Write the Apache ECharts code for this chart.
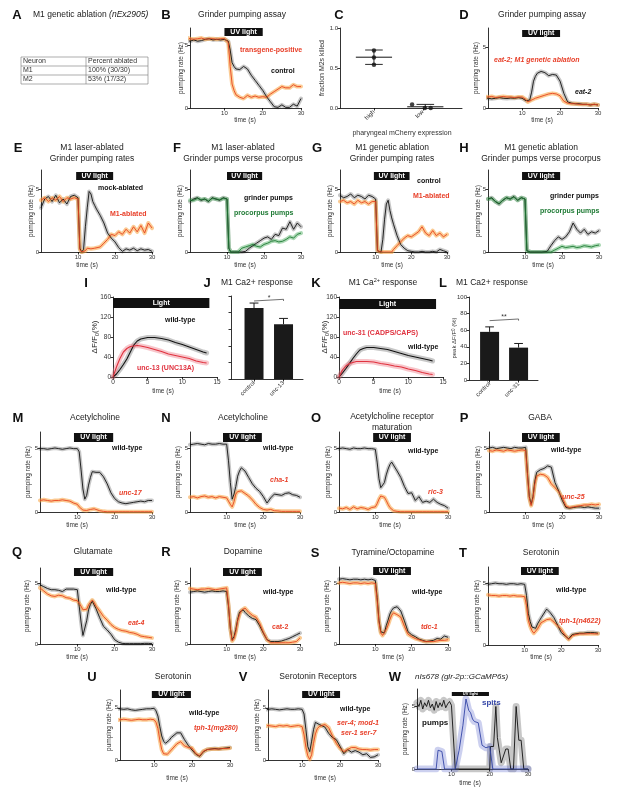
<!DOCTYPE html>
<html><head><meta charset="utf-8">
<script src="https://cdn.jsdelivr.net/npm/echarts@6/dist/echarts.min.js"></script>
<style>html,body{margin:0;padding:0;background:#fff}#c{width:617px;height:795px}</style>
</head><body><div id="c"></div><script>
// ---------------- DATA ----------------
const T = [0,1,2,3,4,5,6,7,8,9,10,10.5,11,11.5,12,12.5,13,13.5,14,14.5,15,16,17,18,19,20,21,22,23,24,25,26,27,28,29,30];
const bControl = [5.4,5.3,5.4,5.3,5.35,5.45,5.5,5.4,5.45,5.4,5.45, 5.4,5.3,4.6,3.6,3.3,3.1,3.15,3.05,3.2, 3.3,3.1,2.6,2.2,1.8,1.4,0.9,0.5,0.1,0.05,0.25,0.05,0.05,0.3,0.15,0.75];
const bTransgene = [5.6,5.5,5.45,5.5,5.55,5.45,5.5,5.5,5.45,5.5,5.5, 5.45,5.2,3.3,1.9,1.4,1.05,0.9,0.85,0.8, 0.75,1.0,0.85,0.95,0.85,0.9,0.85,1.1,1.3,1.5,1.7,1.6,1.6,1.85,1.7,1.7];
const dEat2 = [0.85,0.8,0.75,0.8,0.85,0.8,0.78,0.82,0.8,0.85,0.8, 0.75,0.6,0.5,0.65,1.3,2.2,2.6,2.85,2.95, 3.0,2.9,2.65,2.75,2.7,2.2,1.2,0.5,0.4,0.35,0.35,0.3,0.3,0.25,0.3,0.25];
const dAblated = [0.95,0.9,0.95,0.85,0.9,0.95,0.9,0.9,0.85,0.9,0.9, 0.85,0.7,0.5,0.6,0.65,0.75,0.8,0.85,0.9, 0.95,1.05,1.15,1.2,1.15,1.0,0.55,0.4,0.35,0.35,0.3,0.3,0.3,0.25,0.3,0.25];
const eMock = [3.5,4.2,4.4,4.0,4.5,3.9,4.2,3.8,4.4,4.5,4.3, 0.3,0,0.2,2.0,3.5,4.8,4.6,4.0,3.7, 3.4,2.9,2.3,1.5,1.1,0.8,0.35,0.05,0.25,0.15,0.3,0.1,0.25,0.15,0.2,0.05];
const eAblated = [4.1,4.3,4.0,4.3,4.1,4.4,4.0,4.3,4.2,4.3,4.2, 0.2,0,0,0.1,0.3,0.3,0.25,0.35,0.3, 0.35,0.4,0.7,1.0,1.4,1.3,1.6,1.4,1.8,1.5,2.0,1.6,2.1,1.5,2.3,1.9];
const fGrinder = [4.0,4.2,4.3,4.1,4.2,4.0,4.3,4.2,4.1,4.3,4.2, 0.3,0,0,0,0,0,0,0,0, 0.05,0.3,0.5,0.7,0.9,1.1,1.2,1.0,1.4,1.3,1.9,1.8,2.4,1.8,2.3,2.0];
const fProcorpus = [4.1,4.1,4.25,4.15,4.2,4.05,4.25,4.2,4.15,4.25,4.2, 0.3,0,0,0,0,0,0.15,0.3,0.35, 0.4,0.5,0.6,0.45,0.4,0.6,0.7,0.85,0.9,0.8,0.85,1.0,1.2,1.1,1.4,1.5];
const gControl = [4.5,4.3,4.4,4.6,4.3,4.5,4.4,4.2,4.5,4.4,4.2, 0.1,0,0,1.0,2.6,3.8,4.1,3.3,2.7, 2.2,1.3,0.6,0.3,0.1,0.05,0,0,0.05,0,0,0.05,0,0.2,0.1,0];
const gAblated = [4.0,4.1,3.9,4.0,3.8,4.1,3.9,4.0,3.8,4.0,4.0, 0.1,0,0,0,0,0,0,0,0, 0.2,0.5,0.8,1.1,1.3,1.2,1.4,1.6,2.0,1.5,1.3,1.7,1.3,1.5,1.2,1.4];
const hGrinder = [4.2,4.3,4.0,3.8,4.1,4.3,4.2,4.4,4.1,4.3,4.2, 0.1,0,0,0,0,0,0,0,0, 0,0.05,0.5,0.9,1.2,1.0,1.2,1.6,2.3,1.8,1.5,1.8,1.4,1.6,1.5,1.7];
const hProcorpus = [4.2,4.25,4.0,3.85,4.1,4.3,4.2,4.35,4.1,4.3,4.2, 0.1,0,0,0,0,0,0,0,0, 0,0,0,0.15,0.3,0.45,0.35,0.4,0.45,0.35,0.4,0.5,0.45,0.4,0.5,0.55];
const mWT = [4.95,4.95,4.9,4.95,5.0,4.95,4.9,4.95,5.0,4.95,4.95, 4.7,3.3,1.8,1.0,1.3,2.1,2.7,3.15,3.3, 3.1,3.1,2.75,2.2,1.5,1.05,0.8,0.7,0.65,0.7,0.75,0.8,0.85,0.8,0.9,0.9];
const mUnc17 = [0.9,0.95,0.9,0.85,0.9,0.9,0.95,0.9,0.85,0.7,0.6, 0.4,0.25,0.15,0.13,0.12,0.15,0.2,0.26,0.25, 0.2,0.1,0.05,0.02,0.02,0.02,0.02,0.02,0.02,0.02,0.02,0.02,0.02,0.02,0.02,0.02];
const nWT = [5.25,5.3,5.35,5.3,5.25,5.35,5.3,5.3,5.35,5.3,5.3, 4.0,2.3,1.0,1.4,2.0,2.8,3.2,3.45,3.35, 3.2,2.7,2.2,1.85,1.6,1.2,0.7,1.1,1.4,1.35,1.3,1.45,1.5,1.35,1.3,1.15];
const nCha1 = [1.15,1.2,1.1,1.2,1.25,1.15,1.2,1.1,1.2,1.15,1.1, 0.85,0.6,0.4,0.8,1.4,1.6,1.7,1.65,1.55, 1.45,1.25,0.95,0.6,0.35,0.2,0.15,0.2,0.1,0.08,0.05,0.05,0.05,0.05,0.05,0.05];
const oWT = [4.95,5.0,4.95,4.9,5.0,4.95,4.95,5.0,4.95,4.95,4.9, 3.9,2.6,1.9,1.9,2.3,2.9,3.35,3.7,3.9, 3.8,3.2,2.7,2.0,1.45,1.5,0.9,1.2,0.75,0.85,0.75,1.0,0.75,0.6,0.5,0.3];
const oRic3 = [0.3,0.25,0.35,0.2,0.4,0.25,0.35,0.3,0.2,0.35,0.4, 0.65,1.0,1.25,1.3,1.15,0.9,0.6,0.35,0.2, 0.1,0.05,0.02,0.02,0.02,0.02,0.02,0.02,0.02,0.02,0.02,0.02,0.02,0.02,0.02,0.02];
const pWT = [5.0,5.05,4.95,5.0,5.05,5.0,4.95,5.05,5.0,5.0,5.05, 3.0,1.2,0.6,1.2,2.4,3.1,3.25,3.3,3.35, 3.4,3.6,3.5,2.3,1.65,0.9,0.35,0.3,0.35,0.4,0.4,0.35,0.4,0.35,0.3,0.3];
const pUnc25 = [4.8,4.75,4.85,4.8,4.75,4.85,4.8,4.75,4.8,4.85,4.8, 2.8,1.1,0.5,1.1,2.2,2.8,2.9,2.95,2.95, 2.9,2.7,2.2,1.9,1.6,1.1,0.45,0.35,0.4,0.45,0.5,0.55,0.55,0.6,0.55,0.6];
const qWT = [4.85,4.7,4.55,4.45,4.45,4.4,4.3,4.5,4.5,4.5,4.45, 3.1,1.8,0.7,0.8,1.9,2.8,3.25,3.5,3.2, 2.9,2.15,1.45,1.15,0.8,0.35,0.15,0.05,0.03,0.03,0.03,0.03,0.03,0.05,0.05,0.03];
const qEat4 = [4.6,4.35,4.1,3.95,3.9,4.0,3.95,3.8,3.75,3.6,3.55, 3.45,3.1,2.8,2.7,2.85,3.2,3.4,3.6,3.4, 3.1,2.7,2.25,1.95,1.6,1.35,1.2,1.1,1.05,0.95,0.9,0.8,0.65,0.6,0.55,0.5];
const rWT = [4.25,4.3,4.35,4.3,4.25,4.3,4.35,4.3,4.3,4.35,4.3, 3.1,1.3,0.35,0.6,1.2,2.0,2.6,2.75,2.8, 2.6,2.3,2.1,2.0,1.5,0.9,0.35,0.2,0.2,0.2,0.25,0.35,0.45,0.6,0.75,0.9];
const rCat2 = [4.55,4.5,4.45,4.5,4.5,4.55,4.5,4.45,4.5,4.55,4.6, 3.2,1.3,0.25,0.45,1.0,1.9,2.4,2.75,2.9, 2.95,2.6,2.35,2.2,1.7,0.95,0.35,0.1,0.1,0.1,0.1,0.1,0.1,0.15,0.2,0.5];
const sWT = [5.3,5.35,5.3,5.25,5.3,5.3,5.25,5.3,5.25,5.3,5.2, 3.8,1.95,1.0,0.85,0.9,1.5,1.95,2.45,2.75, 2.95,3.05,2.7,1.9,1.0,0.75,0.6,0.4,0.3,0.2,0.25,0.3,0.45,0.4,0.65,0.55];
const sTdc1 = [5.0,5.05,5.0,4.95,5.0,5.0,4.95,5.0,4.95,5.0,4.95, 3.6,1.8,0.9,0.7,0.8,1.2,1.55,2.0,2.35, 2.55,2.4,2.2,1.45,0.8,0.6,0.45,0.35,0.25,0.2,0.2,0.2,0.25,0.3,0.3,0.35];
const tWT = [4.9,4.95,5.0,4.95,4.95,4.9,4.95,4.95,4.9,4.95,4.9, 4.0,2.55,1.9,1.45,1.3,1.35,1.7,1.95,2.2, 2.35,2.9,2.6,2.2,1.6,1.0,0.75,0.5,0.85,0.9,0.95,0.95,1.0,1.0,1.0,0.95];
const tTph1n = [4.05,4.0,4.0,3.95,4.0,4.0,3.95,4.0,3.95,3.95,3.9, 3.2,2.0,1.5,1.15,0.95,1.0,1.3,1.55,1.8, 1.9,2.05,2.1,1.85,1.55,1.25,0.8,0.45,0.75,0.85,0.9,0.9,0.9,0.92,0.9,0.9];
const uWT = [4.9,4.9,4.85,4.9,4.8,4.75,4.8,4.85,4.9,4.9,4.95, 4.7,4.2,3.2,2.3,1.8,1.6,1.6,1.9,2.15, 2.3,2.6,2.6,1.95,1.4,0.95,0.55,0.35,0.8,1.0,1.05,1.1,1.05,1.1,1.15,1.2];
const uTph1mg = [3.8,3.85,3.9,3.85,3.8,3.85,3.9,3.85,3.85,3.9,3.85, 3.6,3.0,1.9,1.0,0.6,0.5,0.55,0.75,0.95, 1.15,1.55,1.75,1.35,1.2,1.15,0.6,0.4,0.85,1.0,1.05,1.05,1.05,1.1,1.1,1.15];
const vWT = [4.8,4.85,4.9,4.85,4.8,4.85,4.9,4.85,4.85,4.9,4.85, 4.4,2.9,1.3,0.8,1.8,2.9,3.6,3.6,3.4, 3.3,3.15,2.55,2.15,1.95,1.3,0.6,1.0,0.75,0.9,0.75,0.5,0.6,0.25,0.3,0.5];
const vSerMut = [3.2,3.3,3.25,3.2,3.3,3.25,3.3,3.2,3.25,3.3,3.2, 2.4,1.2,0.4,0.06,0.5,1.6,2.5,3.0,3.2, 3.3,3.4,3.1,2.3,1.6,1.1,0.8,1.0,1.2,1.2,1.05,1.0,1.0,0.95,1.0,1.0];
const wPumpT = [1,1.5,2,2.5,3,3.5,4,4.5,5,5.5,6,6.5,7,7.5,8,8.5,9,9.5,10,11,20,20.2,21,21.6,22,22.5,23,23.5,24.2,24.8,25.5,26.2,26.9,27.6,28.2,28.9,30];
const wPump = [5.3,5.0,5.5,4.8,5.3,5.0,5.5,4.9,5.2,4.7,5.4,4.9,5.3,5.0,5.5,4.9,5.2,5.4,5.1,0,0,1.8,1.8,5.0,2.5,2.5,0.5,0.5,1.6,1.6,0,0,5.0,2.3,2.3,0,0];
const wSpitT = [1,6,6.5,7,7.5,8.2,11,12,13,13.8,14.5,15,15.5,16,16.5,17,17.5,18,18.5,19,19.5,20,20.8,30];
const wSpit = [0,0,1.5,1.6,1.4,0,0,1.5,3.5,5.6,4.7,4.5,4.0,3.8,3.8,3.7,3.8,1.9,1.8,1.7,1.8,1.8,0,0];
const IT = [0,0.5,1,1.5,2,2.5,3,3.5,4,5,6,7,8,9,10,11,12,13,13.5];
const iWT = [0,6,15,25,36,50,64,72,76,79,79,77,74,69,65,60,55,50,48];
const iUnc13 = [0,20,37,50,57,61,62,63,62,59,55,51,46,43,40,37,32,29,28];
const kWT = [0,8,17,27,37,46,54,57,59,59,57,55,51,47,43,40,37,34,32];
const kUnc31 = [0,14,22,27,29,31,31,31,31,30,27,25,22,20,16,13,9,6,5];
const jCats = ['control','unc-13'];
const jMean = [85.5,66];
const jErr = [6,7];
const lCats = ['control','unc-31'];
const lMean = [58,39];
const lErr = [6,5];
const cGroups = ['high','low'];
const cCenter = [1,2.05];
const cPointX = [1,1,1,1.78,2.04,2.16];
const cPointY = [0.72,0.63,0.54,0.045,0,0];
const cMean = [0.635,0.015];
const cErr = [0.09,0.03];
const tableHead = ['Neuron','Percent ablated'];
const tableRows = [['M1','100% (30/30)'],['M2','53% (17/32)']];
const pumpYTicks = [0,5];
const timeTicks = [10,20,30];
const caYTicks = [0,40,80,120,160];
const caXTicks = [0,5,10,15];

// ---------------- STYLE / LAYOUT ----------------
const FONT = "'Liberation Sans', Arial, Helvetica, sans-serif";
const TRED = '#e8402a';
const STY = {
  k:['#111','rgba(0,0,0,0.22)'],
  r:['#e8431e','rgba(248,160,60,0.55)'],
  g:['#1e7a34','rgba(70,170,90,0.45)'],
  p:['#e0323f','rgba(236,120,130,0.42)'],
  b:['#3345a6','rgba(110,120,210,0.35)']
};
const grids=[], xAxes=[], yAxes=[], series=[], graphics=[];

function axisPair(gi, p){
  const ax = {color:'#000', width:0.8};
  xAxes.push({gridIndex:gi, type:'value', min:p.x[0], max:p.x[1], splitLine:{show:false},
    axisLine:{onZero:false, lineStyle:ax},
    axisTick:{length:2.5, lineStyle:ax, customValues:p.xt},
    axisLabel:{customValues:p.xt, fontSize:p.fs||6, color:'#333', margin:p.xm||2, fontFamily:FONT, rotate:p.rot||0, formatter:p.xf}});
  yAxes.push({gridIndex:gi, type:'value', min:p.y[0], max:p.y[1], splitLine:{show:false},
    axisLine:{onZero:false, lineStyle:ax},
    axisTick:{length:2.5, lineStyle:ax, customValues:p.yt},
    axisLabel:{show:p.ylabels!==false, customValues:p.yt, fontSize:p.fs||6, color:'#333', margin:2, fontFamily:FONT, formatter:p.yf}});
}
function curve(gi, xs, ys, sty, bw, lw){
  const d = xs.map((x,i)=>[x, ys[i]]);
  series.push({type:'line', xAxisIndex:gi, yAxisIndex:gi, data:d, symbol:'none', silent:true, animation:false,
    lineStyle:{color:STY[sty][1], width:bw, cap:'round', join:'round'}, z:2});
  const s = {type:'line', xAxisIndex:gi, yAxisIndex:gi, data:d, symbol:'none', silent:true, animation:false,
    lineStyle:{color:STY[sty][0], width:lw}, z:3};
  series.push(s);
  return s;
}
function seg(gi, pts, color, w){
  series.push({type:'line', xAxisIndex:gi, yAxisIndex:gi, data:pts, symbol:'none', silent:true, animation:false,
    lineStyle:{color:color, width:w||0.8}, z:4});
}
function txt(x, y, s, o){
  o = o||{};
  graphics.push({type:'text', x:x, y:y, rotation:o.rot||0, silent:true, z:100,
    style:{text:s, fill:o.c||'#222', fontSize:o.fs||8.5, fontWeight:o.fw||'normal', fontStyle:o.it?'italic':'normal',
      fontFamily:FONT, textAlign:o.al||'left', textVerticalAlign:'middle', align:o.al||'left', verticalAlign:'middle', rich:o.rich}});
}

const panels = [
  {box:[190,28,111,80], x:[1,30], y:[0,6.35], uv:[10,20,0,8], curves:[[T,bControl,'k'],[T,bTransgene,'r']]},
  {box:[488,28,110,80], x:[1,30], y:[0,6.56], uv:[10,20,2,7], curves:[[T,dEat2,'k'],[T,dAblated,'r']]},
  {box:[41,170,111,82], x:[0,30], y:[0,6.5], uv:[9.5,19.5,2,8], curves:[[T,eMock,'k'],[T,eAblated,'r']]},
  {box:[190,170,111,82], x:[0,30], y:[0,6.5], uv:[10,19.5,2,8], curves:[[T,fGrinder,'k'],[T,fProcorpus,'g']]},
  {box:[340,170,107,82], x:[0,30], y:[0,6.5], uv:[9.5,19.5,2,8], curves:[[T,gControl,'k'],[T,gAblated,'r']]},
  {box:[488,170,111,82], x:[0,30], y:[0,6.5], uv:[9.2,19.5,2,8], curves:[[T,hGrinder,'k'],[T,hProcorpus,'g']]},
  {box:[40,432,112,80], x:[0,30], y:[0,6.25], uv:[9.1,19.6,1,9], curves:[[T,mWT,'k'],[T,mUnc17,'r']]},
  {box:[190,432,110,80], x:[0,30], y:[0,6.25], uv:[9,19.6,1,9], curves:[[T,nWT,'k'],[T,nCha1,'r']]},
  {box:[339,432,109,80], x:[0,30], y:[0,6.25], uv:[9.4,19.8,1,9], curves:[[T,oWT,'k'],[T,oRic3,'r']]},
  {box:[489,432,110,80], x:[0,30], y:[0,6.25], uv:[9,19.3,1,9], curves:[[T,pWT,'k'],[T,pUnc25,'r']]},
  {box:[40,568,112,76], x:[0,30], y:[0,6.23], uv:[9.1,19.6,0,8], curves:[[T,qWT,'k'],[T,qEat4,'r']]},
  {box:[190,568,110,76], x:[0,30], y:[0,6.23], uv:[9,19.6,0,8], curves:[[T,rWT,'k'],[T,rCat2,'r']]},
  {box:[339,567,109,77], x:[0,30], y:[0,6.3], uv:[9.4,19.8,0,8], curves:[[T,sWT,'k'],[T,sTdc1,'r']]},
  {box:[488,567,110,78], x:[0,30], y:[0,6.3], uv:[9,19.3,0,8], curves:[[T,tWT,'k'],[T,tTph1n,'r']]},
  {box:[120,690,110,70], x:[1,30], y:[0,6.7], uv:[9.4,19.7,1,7], curves:[[T,uWT,'k'],[T,uTph1mg,'r']]},
  {box:[268,690,110,70], x:[1,30], y:[0,6.7], uv:[10,20,1,7], curves:[[T,vWT,'k'],[T,vSerMut,'r']]},
  {box:[417,689,111,80], x:[1,30], y:[0,6.4], uv:[10.1,19.8,3,4], uvfs:4, bw:7, curves:[[wPumpT,wPump,'k'],[wSpitT,wSpit,'b']]},
  {box:[113,297,104,80], x:[0,15], y:[0,160], xt:caXTicks, yt:caYTicks, fs:6.5, uv:[0,13.9,1,10], uvtext:'Light', bw:5, lw:1.1, curves:[[IT,iWT,'k'],[IT,iUnc13,'p']]},
  {box:[339,297,104,80], x:[0,15], y:[0,160], xt:caXTicks, yt:caYTicks, fs:6.5, uv:[0,14,2,10], uvtext:'Light', bw:5, lw:1.1, curves:[[IT,kWT,'k'],[IT,kUnc31,'p']]}
];

panels.forEach(p=>{
  const gi = grids.length;
  grids.push({left:p.box[0], top:p.box[1], width:p.box[2], height:p.box[3]});
  axisPair(gi, {x:p.x, y:p.y, xt:p.xt||timeTicks, yt:p.yt||pumpYTicks, fs:p.fs});
  let first = null;
  p.curves.forEach(c=>{ const s = curve(gi, c[0], c[1], c[2], p.bw||4, p.lw||0.9); if(!first) first = s; });
  const upp = (p.y[1]-p.y[0])/p.box[3];
  const yTop = p.y[1] - p.uv[2]*upp, yBot = p.y[1] - (p.uv[2]+p.uv[3])*upp;
  first.markArea = {silent:true, itemStyle:{color:'#111', opacity:1},
    label:{show:true, position:'inside', color:'#fff', fontSize:p.uvfs||7, fontWeight:'bold', fontFamily:FONT},
    data:[[{coord:[p.uv[0], yTop], name:p.uvtext||'UV light'},{coord:[p.uv[1], yBot]}]]};
});

// Panel C: scatter with mean +/- sd
(function(){
  const gi = grids.length;
  grids.push({left:340, top:28, width:122, height:80});
  axisPair(gi, {x:[0.306,2.8], y:[0,1], xt:[1,2], yt:[0,0.5,1], fs:6, rot:45, xm:3,
    xf:v=>cGroups[Math.round(v)-1], yf:v=>v.toFixed(1)});
  series.push({type:'scatter', xAxisIndex:gi, yAxisIndex:gi, data:cPointX.map((x,i)=>[x,cPointY[i]]),
    symbolSize:4.5, itemStyle:{color:'#111'}, silent:true, animation:false, z:5});
  cMean.forEach((m,i)=>{
    const c = cCenter[i], e = cErr[i];
    seg(gi, [[c-0.37,m],[c+0.37,m]], '#111', 1);
    seg(gi, [[c,m-e],[c,m+e]], '#111', 0.9);
    seg(gi, [[c-0.18,m+e],[c+0.18,m+e]], '#111', 0.9);
    seg(gi, [[c-0.18,m-e],[c+0.18,m-e]], '#111', 0.9);
  });
})();

// Bar panels J and L
function barPanel(box, xr, cats, mean, err, sigY, showY){
  const gi = grids.length;
  grids.push({left:box[0], top:box[1], width:box[2], height:box[3]});
  axisPair(gi, {x:xr, y:[0,100], xt:[0,1], yt:[0,20,40,60,80,100], fs:6, rot:45, xm:3,
    xf:v=>cats[Math.round(v)], ylabels:showY});
  series.push({type:'bar', xAxisIndex:gi, yAxisIndex:gi, data:mean.map((m,i)=>[i,m]), barWidth:19,
    itemStyle:{color:'#1a1a1a'}, silent:true, animation:false, z:3});
  mean.forEach((m,i)=>{
    seg(gi, [[i,m],[i,m+err[i]]], '#1a1a1a', 1);
    seg(gi, [[i-0.15,m+err[i]],[i+0.15,m+err[i]]], '#1a1a1a', 1);
  });
  seg(gi, [[0,sigY-2],[0,sigY],[1,sigY],[1,sigY-2]], '#333', 0.7);
}
barPanel([231,296,72,83], [-0.78,1.66], jCats, jMean, jErr, 96, false);
barPanel([469,297,69,83], [-0.71,1.67], lCats, lMean, lErr, 73.5, true);

// ---------------- TEXT ----------------
const letters = [['A',17,15],['B',166,15],['C',339,15],['D',464,15],['E',18,148],['F',177,148],['G',317,148],['H',464,148],
  ['I',86,283],['J',207,283],['K',316,283],['L',443,283],['M',18,418],['N',166,418],['O',316,418],['P',464,418],
  ['Q',17,552],['R',166,552],['S',315,553],['T',463,553],['U',92,677],['V',243,677],['W',395,677]];
letters.forEach(l=>txt(l[1], l[2], l[0], {fs:13, fw:'bold', al:'center', c:'#111'}));

txt(33, 15, '{a|M1 genetic ablation }{i|(nEx2905)}', {rich:{a:{fontSize:8.5, fontFamily:FONT, fill:'#222'}, i:{fontSize:8.5, fontFamily:FONT, fontStyle:'italic', fill:'#222'}}});
[['Grinder pumping assay',242,15],['Grinder pumping assay',542,15],
 ['M1 laser-ablated',92,148],['Grinder pumping rates',92,159],
 ['M1 laser-ablated',243,148],['Grinder pumps verse procorpus',243,159],
 ['M1 genetic ablation',392,148],['Grinder pumping rates',392,159],
 ['M1 genetic ablation',541,148],['Grinder pumps verse procorpus',541,159],
 ['M1 Ca2+ response',257,283],['M1 Ca2+ response',492,283],
 ['Acetylcholine',95,418],['Acetylcholine',243,418],['Acetylcholine receptor',392,417],['maturation',392,428],['GABA',540,418],
 ['Glutamate',93,552],['Dopamine',243,552],['Tyramine/Octopamine',393,553],['Serotonin',541,553],
 ['Serotonin',173,677],['Serotonin Receptors',318,677]
].forEach(t=>txt(t[1], t[2], t[0], {al:'center'}));
txt(383, 283, '{a|M1 Ca}{s|2+}{a| response}', {al:'center', rich:{a:{fontSize:8.5, fontFamily:FONT, fill:'#222'}, s:{fontSize:5.5, fontFamily:FONT, fill:'#222', verticalAlign:'top', padding:[0,0,5,0]}}});
txt(415, 677, 'nIs678 (glr-2p::GCaMP6s)', {it:true, fs:8});

// table A
const tb = {l:21, m:86, r:148, ys:[57,66,75,84]};
tb.ys.forEach(y=>graphics.push({type:'line', silent:true, shape:{x1:tb.l,y1:y,x2:tb.r,y2:y}, style:{stroke:'#777', lineWidth:0.6}}));
[tb.l, tb.m, tb.r].forEach(x=>graphics.push({type:'line', silent:true, shape:{x1:x,y1:tb.ys[0],x2:x,y2:tb.ys[3]}, style:{stroke:'#777', lineWidth:0.6}}));
txt(tb.l+2, 61.5, tableHead[0], {fs:7, c:'#333'}); txt(tb.m+2, 61.5, tableHead[1], {fs:7, c:'#333'});
tableRows.forEach((r,i)=>{ txt(tb.l+2, 70.5+9*i, r[0], {fs:7, c:'#333'}); txt(tb.m+2, 70.5+9*i, r[1], {fs:7, c:'#333'}); });

// annotations
const B7 = {fs:7, fw:'bold'};
function ann(x,y,s,c,it){ txt(x,y,s,{fs:7, fw:'bold', c:c||'#111', it:!!it}); }
ann(240,50,'transgene-positive',TRED); ann(271,71,'control');
ann(494,60,'eat-2; M1 genetic ablation',TRED,true); ann(575,92,'eat-2','#111',true);
ann(98,188,'mock-ablated'); ann(110,214,'M1-ablated',TRED);
ann(244,198,'grinder pumps'); ann(234,213,'procorpus pumps','#1e7a34');
ann(417,181,'control'); ann(413,196,'M1-ablated',TRED);
ann(550,196,'grinder pumps'); ann(540,211,'procorpus pumps','#1e7a34');
ann(165,320,'wild-type'); ann(137,368,'unc-13 (UNC13A)','#e0323f');
ann(343,333,'unc-31 (CADPS/CAPS)','#e0323f'); ann(408,347,'wild-type');
ann(112,448,'wild-type'); ann(119,493,'unc-17',TRED,true);
ann(263,448,'wild-type'); ann(270,480,'cha-1',TRED,true);
ann(408,451,'wild-type'); ann(428,492,'ric-3',TRED,true);
ann(551,450,'wild-type'); ann(562,497,'unc-25',TRED,true);
ann(106,590,'wild-type'); ann(128,623,'eat-4',TRED,true);
ann(263,592,'wild-type'); ann(272,627,'cat-2',TRED);
ann(412,592,'wild-type'); ann(421,627,'tdc-1',TRED,true);
ann(556,590,'wild-type'); ann(559,621,'tph-1(n4622)',TRED,true);
ann(189,713,'wild-type'); ann(194,728,'tph-1(mg280)',TRED,true);
ann(340,709,'wild-type'); ann(337,723,'ser-4; mod-1',TRED,true); ann(341,733,'ser-1 ser-7',TRED,true);
txt(482,703,'spits',{fs:8, fw:'bold', c:'#3345a6'}); txt(422,723,'pumps',{fs:8, fw:'bold', c:'#111'});
txt(269,298,'*',{fs:7, al:'center', c:'#333'}); txt(504,317,'**',{fs:7, al:'center', c:'#333'});

// axis names
const R90 = Math.PI/2;
[[181,68],[476,68],[31,211],[180,211],[330,211],[478,211],[28,472],[178,472],[328,472],[478,472],
 [27,606],[177,606],[327,606],[477,606],[109,725],[257,725],[405,729]].forEach(p=>
  txt(p[0], p[1], 'pumping rate (Hz)', {fs:6.5, c:'#333', al:'center', rot:R90}));
txt(322, 68, 'fraction M2s killed', {fs:7, c:'#333', al:'center', rot:R90});
const dff = {a:{fontSize:8, fontFamily:FONT, fill:'#222'}, s:{fontSize:5.5, fontFamily:FONT, fill:'#222', verticalAlign:'bottom', padding:[4,0,0,0]}};
txt(95, 337, '{a|ΔF/F}{s|0}{a|(%)}', {al:'center', rot:R90, rich:dff});
txt(325, 337, '{a|ΔF/F}{s|0}{a|(%)}', {al:'center', rot:R90, rich:dff});
txt(454, 338, '{a|peak ΔF/F}{s|0}{a| (%)}', {al:'center', rot:R90, rich:{a:{fontSize:6, fontFamily:FONT, fill:'#333'}, s:{fontSize:4.5, fontFamily:FONT, fill:'#333'}}});
[[245,120],[542,120],[87,265],[245,265],[392,265],[543,265],[163,391],[390,391],
 [77,525],[245,525],[390,525],[543,525],[77,657],[245,657],[393,657],[541,657],[177,778],[325,778],[470,783]].forEach(p=>
  txt(p[0], p[1], 'time (s)', {fs:6.5, c:'#333', al:'center'}));
txt(402, 133, 'pharyngeal mCherry expression', {fs:7, c:'#333', al:'center'});

const chart = echarts.init(document.getElementById('c'), null, {renderer:'canvas', width:617, height:795});
chart.setOption({animation:false, backgroundColor:'#fff', grid:grids, xAxis:xAxes, yAxis:yAxes, series:series, graphic:graphics});
</script></body></html>
